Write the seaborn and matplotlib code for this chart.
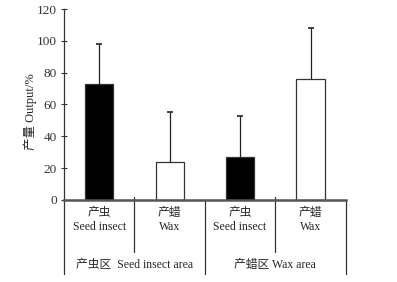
import pandas as pd
import matplotlib
matplotlib.use('Agg')
import matplotlib.pyplot as plt
import seaborn as sns

# values
bars = ['虫区-产虫', '虫区-产蜡', '蜡区-产虫', '蜡区-产蜡']
tick_labels = ['产虫\nSeed insect', '产蜡\nWax', '产虫\nSeed insect', '产蜡\nWax']
output = [73, 24, 27, 76]
err_up = [25, 31, 26, 32]
fill = ['black', 'white', 'black', 'white']
areas = ['产虫区  Seed insect area', '产蜡区 Wax area']

sns.set_style('ticks')
plt.rcParams['font.family'] = ['Liberation Serif', 'Noto Sans CJK SC']
plt.rcParams['font.size'] = 8.5

df = pd.DataFrame({'bar': bars, 'output': output})

fig = plt.figure(figsize=(3.97, 2.82), dpi=100)
ax = fig.add_axes([0.161, 0.291, 0.71, 0.677])
sns.barplot(data=df, x='bar', y='output', hue='bar', palette=fill, legend=False,
            edgecolor='#333333', linewidth=0.9, width=0.4, ax=ax)
tops = [o + e for o, e in zip(output, err_up)]
ax.errorbar(range(len(bars)), output, yerr=[[0] * len(bars), err_up], fmt='none',
            ecolor='#222222', elinewidth=0.9, capsize=0)
ax.scatter(range(len(bars)), tops, marker='_', s=25, color='#222222', linewidths=1.2)

ax.set_xlim(-0.5, 3.5)
ax.set_ylim(0, 120)
ax.set_yticks(range(0, 121, 20))
ax.set_xticks(range(len(bars)))
ax.set_xticklabels(tick_labels, linespacing=1.25)
ax.tick_params(axis='x', length=0, pad=5)
ax.tick_params(axis='y', direction='inout', length=4, width=0.8, colors='#333333',
               pad=3, labelsize=9.5)
ax.set_xlabel('')
ax.set_ylabel('产量 Output/%', labelpad=0, fontsize=9)
ax.yaxis.set_label_coords(-0.095, 0.46)

for side in ['top', 'right']:
    ax.spines[side].set_visible(False)
ax.spines['left'].set_color('#333333')
ax.spines['left'].set_linewidth(0.9)
ax.spines['bottom'].set_color('#555555')
ax.spines['bottom'].set_linewidth(1.8)

# separators under the axis
trans = ax.get_xaxis_transform()
for x in [-0.5, 1.5, 3.5]:
    ax.plot([x, x], [0, -0.387], transform=trans, color='#333333', lw=0.9, clip_on=False)
for x in [0.5, 2.5]:
    ax.plot([x, x], [0.016, -0.272], transform=trans, color='#333333', lw=0.9, clip_on=False)

for x, t in zip([0.5, 2.5], areas):
    ax.text(x, -0.34, t, transform=trans, ha='center', va='center')

fig.savefig('out.png', dpi=100)
